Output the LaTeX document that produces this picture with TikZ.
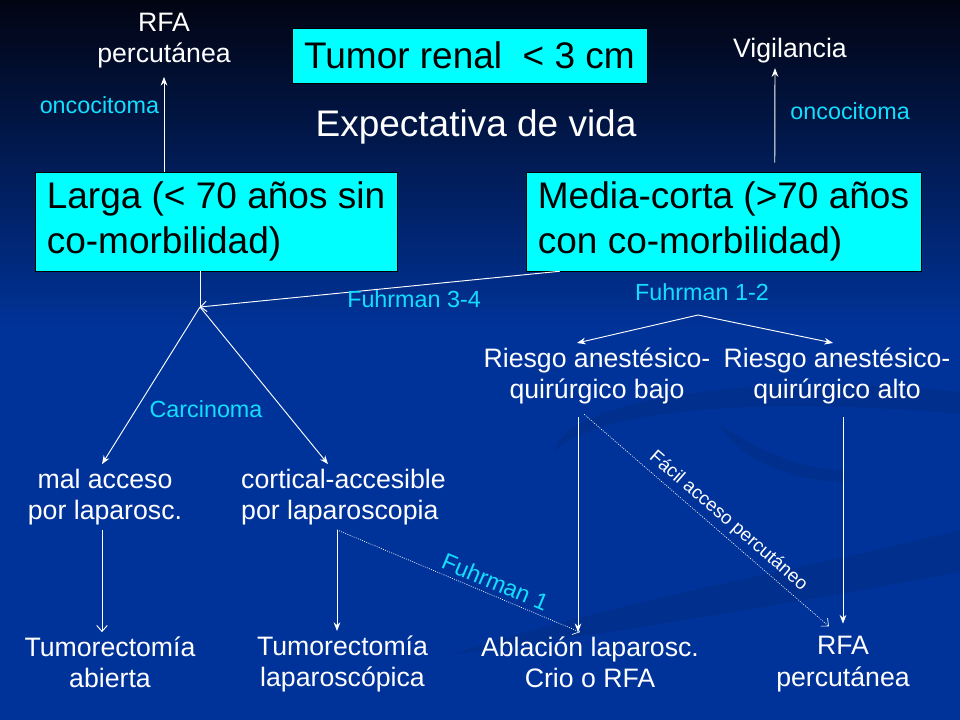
\documentclass[tikz,border=0pt]{standalone}
\usepackage{fontspec}
\setmainfont{Liberation Sans}
\usetikzlibrary{arrows.meta,positioning,calc}
\definecolor{slideblue}{RGB}{0,51,153}
\definecolor{slidemid}{RGB}{1,28,98}
\definecolor{slidetop}{RGB}{2,4,18}
\definecolor{boxcyan}{RGB}{0,255,255}
\definecolor{labcyan}{RGB}{20,222,255}
\newcommand{\grande}{\fontsize{27.75pt}{33.75pt}\selectfont}
\newcommand{\medio}{\fontsize{20pt}{23.6pt}\selectfont}
\newcommand{\chico}{\fontsize{17.5pt}{21pt}\selectfont}
\newcommand{\mini}{\fontsize{14pt}{17pt}\selectfont}
\tikzset{
    caja/.style={
           rectangle,
           fill=boxcyan,
           draw=black, thin,
           align=left,
           text=black,
           font=\grande
           },
    texto/.style={
              text=white,
              align=center,
              font=\medio
                  },
    etiq/.style={
              text=labcyan,
              font=\chico
                  },
    flecha/.style={
              draw=white, line width=0.7pt,
              -{Stealth[length=6.5pt,width=5pt]}
                  },
    abierta/.style={
              draw=white, line width=0.7pt,
              -{Straight Barb[length=4.5pt,width=8pt]}
                  },
    punteado/.style={
              abierta, densely dotted, line width=0.5pt
                  },
    linea/.style={draw=white, line width=0.7pt},
    swoosh/.style={fill=black, opacity=0.08},
}
\begin{document}
\begin{tikzpicture}[x=0.75pt, y=-0.75pt]
  \useasboundingbox (0,0) rectangle (960,720);
  % fondo
  \fill[slideblue] (0,0) rectangle (960,720);
  \shade[top color=slidetop, middle color=slidemid, bottom color=slideblue] (0,0) rectangle (960,330);
  \fill[swoosh] (450,655) .. controls (620,600) and (800,570) .. (960,530) -- (960,572) .. controls (800,602) and (620,632) .. (450,655) -- cycle;
  \fill[swoosh] (555,452) .. controls (560,400) and (760,370) .. (960,392) -- (960,414) .. controls (760,396) and (590,410) .. (555,452) -- cycle;
  \fill[swoosh] (720,425) .. controls (740,462) and (800,482) .. (845,482) -- (845,470) .. controls (800,470) and (762,452) .. (720,425) -- cycle;

  \node[caja, align=center, minimum width=266.25pt, minimum height=41.25pt, inner sep=0pt] (tumor) at (469.5,55.5) {Tumor renal\ \ < 3 cm};
  \node[texto, font=\grande] (expect) at (476,127) {Expectativa de vida};
  \node[caja, minimum width=271.5pt, minimum height=74.25pt] (larga) at (216,221.5) {Larga (< 70 años sin\\co-morbilidad)};
  \node[caja, minimum width=296.25pt, minimum height=74.25pt] (media) at (723.5,221.5) {Media-corta (>70 años\\con co-morbilidad)};
  \node[texto] (rfaArriba) at (164,40.5) {RFA\\percutánea};
  \node[texto] (vigil) at (790,51) {Vigilancia};
  \coordinate (union) at (200,307);
  \coordinate (ramal) at (698,315);
  \node[etiq] (fuhr12) [above=7pt of ramal, xshift=3pt] {Fuhrman 1-2};
  \node[etiq] (carcin) at (206,409) {Carcinoma};
  \node[texto] (malacc) at (105,497) {mal acceso\\por laparosc.};
  \node[texto, align=left] (cortic) at (343.5,497) {cortical-accesible\\por laparoscopia};
  \node[texto] (bajo) at (597,376) {Riesgo anestésico-\\quirúrgico bajo};
  \node[texto] (alto) at (837,376) {Riesgo anestésico-\\quirúrgico alto};
  \node[texto] (tumAb) at (110,662.5) {Tumorectomía\\abierta};
  \node[texto] (tumLap) at (342.5,664) {Tumorectomía\\laparoscópica};
  \node[texto] (ablac) at (590,662.5) {Ablación laparosc.\\Crio o RFA};
  \node[texto] (rfaAbajo) at (843,664) {RFA\\percutánea};

  \path
   (larga.north -| rfaArriba) edge[flecha, shorten >=3pt] node[etiq, left, pos=0.67] {oncocitoma} (rfaArriba.south)
   ($(media.north west)+(249,0)$) edge[flecha, shorten <=6.75pt] node[etiq, right=8pt, pos=0.58] {oncocitoma} ($(vigil.south)+(-15,0)$)
   (larga.south -| union) edge[linea] (union)
   ($(media.south west)+(34,0)$) edge[abierta] node[etiq, below, pos=0.405] {Fuhrman 3-4} (union)
   (union) edge[flecha] ($(malacc.north)+(-3,0)$)
   (union) edge[flecha] ($(cortic.north)+(-15.5,0)$)
   ($(malacc.south)+(-3,0)$) edge[abierta] ($(malacc.south |- tumAb.north)+(-3,0)$)
   ($(cortic.south)+(-6.5,0)$) edge[flecha] ($(cortic.south |- tumLap.north)+(-6.5,0)$)
   ($(cortic.south)+(-6.5,0)$) edge[punteado] node[etiq, sloped, above, pos=0.63] {Fuhrman 1} ($(ablac.north)+(-10,0)$)
   (ramal) edge[flecha] ($(bajo.north)+(-20,0)$)
   (ramal) edge[flecha] ($(alto.north)+(-4,0)$)
   ($(bajo.south)+(-19,0)$) edge[flecha, shorten <=6pt] ($(bajo.south |- ablac.north)+(-19,0)$)
   ($(alto.south)+(6,0)$) edge[flecha, shorten <=6pt, shorten >=6pt] ($(alto.south |- rfaAbajo.north)+(6,0)$)
   ($(bajo.south)+(-19,0)$) edge[punteado, shorten <=6pt, shorten >=6pt] node[sloped, above, pos=0.55, text=white, font=\mini] {Fácil acceso percutáneo} ($(rfaAbajo.north)+(-8,0)$)
   ;
\end{tikzpicture}
\end{document}
